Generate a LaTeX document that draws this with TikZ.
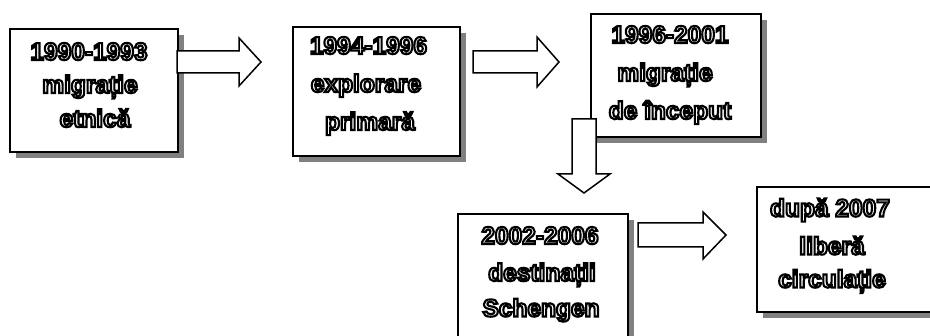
\documentclass[tikz,border=0pt]{standalone}
\usepackage{fontspec}
\setmainfont{Liberation Sans}
\usetikzlibrary{shadows}
\definecolor{shadowgray}{RGB}{128,128,128}
\tikzset{
  boxshape/.style={draw=black, line width=2.2pt, fill=white, anchor=north west,
    drop shadow={shadow xshift=6pt, shadow yshift=-6pt, fill=shadowgray, opacity=1}},
  blockarrow/.style={draw=black, line width=1.5pt, fill=white, line join=miter},
  txt/.style={anchor=base, inner sep=0pt,
    font=\fontsize{24.5}{28}\selectfont\bfseries},
}
\newcommand{\otext}[1]{\special{pdf:literal direct 2 Tr 2.1 w 0 G 1 g}#1\special{pdf:literal direct 0 Tr 0 g 0 G}}
\begin{document}
\begin{tikzpicture}[x=1pt, y=-1pt]
\clip (0,0) rectangle (930,336);
\fill[white] (0,0) rectangle (930,336);
% boxes
\node[boxshape, minimum width=168pt, minimum height=123pt] (b1) at (9,28) {};
\node[boxshape, minimum width=167pt, minimum height=129pt] (b2) at (292,26) {};
\node[boxshape, minimum width=170pt, minimum height=123pt] (b3) at (590,13) {};
\node[boxshape, minimum width=170pt, minimum height=140pt] (b4) at (457,213) {};
\node[boxshape, minimum width=190pt, minimum height=125pt] (b5) at (756,186) {};
% block arrows
\draw[blockarrow] (177,51) -- (239,51) -- (239,38) -- (261,62) -- (239,86) -- (239,73) -- (177,73) -- cycle;
\draw[blockarrow] (473,51) -- (537,51) -- (537,37) -- (559,62) -- (537,87) -- (537,73) -- (473,73) -- cycle;
\draw[blockarrow] (572,119) -- (596,119) -- (596,174) -- (610,174) -- (584,193) -- (558,174) -- (572,174) -- cycle;
\draw[blockarrow] (638,223) -- (703,223) -- (703,212) -- (726,235) -- (703,259) -- (703,247) -- (638,247) -- cycle;
% texts
\node[txt] (t1a) at (89,60) {\otext{1990-1993}};
\node[txt] (t1b) at (90,93) {\otext{migrație}};
\node[txt] (t1c) at (95,127) {\otext{etnică}};
\node[txt] (t2a) at (368.5,54) {\otext{1994-1996}};
\node[txt] (t2b) at (366,92) {\otext{explorare}};
\node[txt] (t2c) at (370,130) {\otext{primară}};
\node[txt] (t3a) at (670,43) {\otext{1996-2001}};
\node[txt] (t3b) at (665,81) {\otext{migrație}};
\node[txt] (t3c) at (670,119) {\otext{de început}};
\node[txt] (t4a) at (540,244) {\otext{2002-2006}};
\node[txt] (t4b) at (542,281) {\otext{destinații}};
\node[txt] (t4c) at (541,316.5) {\otext{Schengen}};
\node[txt] (t5a) at (830,216.5) {\otext{după 2007}};
\node[txt] (t5b) at (832,254.5) {\otext{liberă}};
\node[txt] (t5c) at (832,287.5) {\otext{circulație}};
\end{tikzpicture}
\end{document}
